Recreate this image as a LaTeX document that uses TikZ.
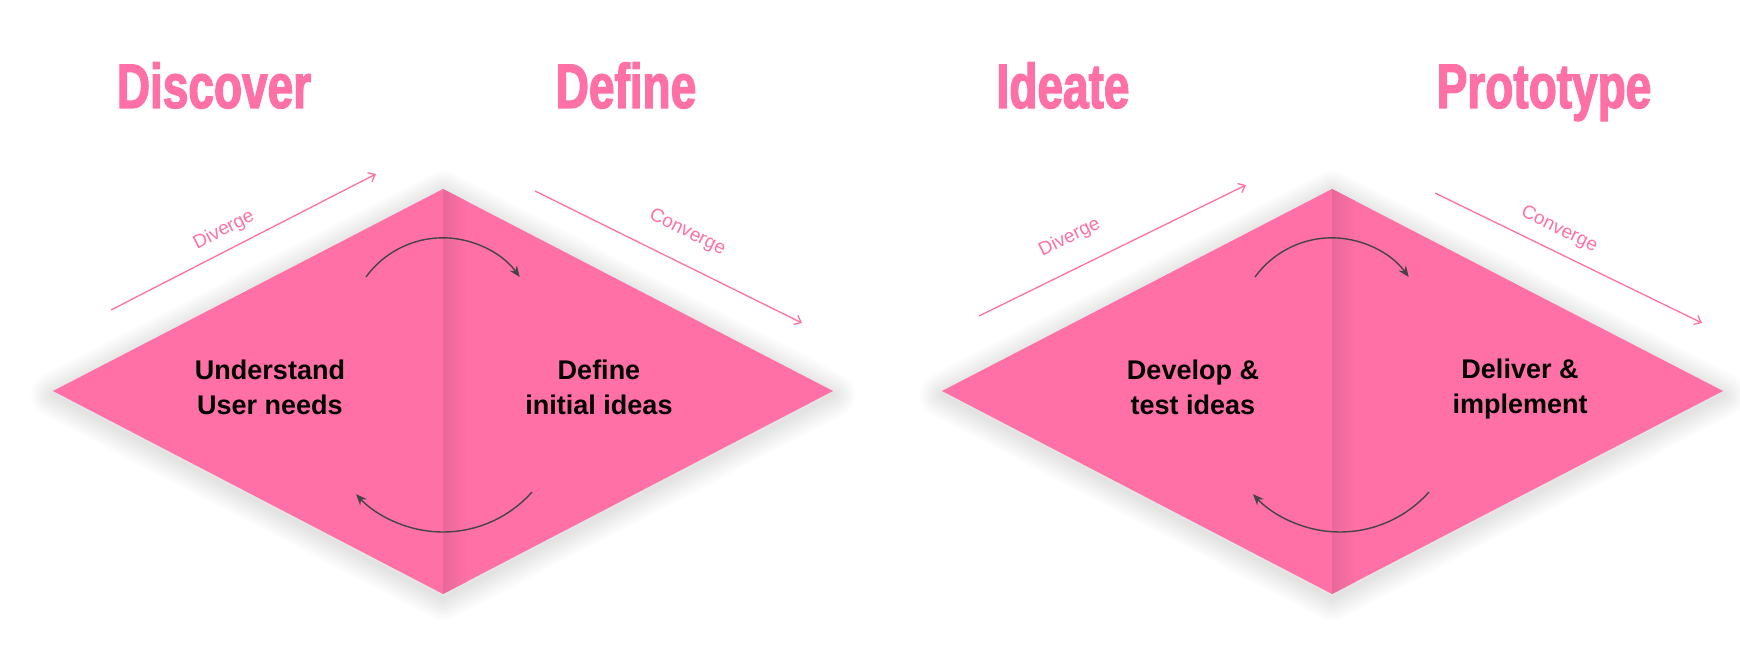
\documentclass[tikz,border=0pt]{standalone}
\usepackage{fontspec}
\setmainfont{Liberation Sans}
\newfontfamily\headfont{Liberation Sans Bold}[FakeStretch=0.73,FakeBold=2]
\usetikzlibrary{arrows.meta}
\usepackage{xcolor}
\definecolor{dpink}{HTML}{FF70A6}
\definecolor{dfold}{HTML}{E8689B}
\definecolor{arrowgray}{HTML}{454545}

\begin{document}
\begin{tikzpicture}[x=1pt, y=1pt,
    heading/.style={font=\headfont\fontsize{63}{63}\selectfont, text=dpink, anchor=base},
    phase/.style={align=center, font=\bfseries\fontsize{27}{35}\selectfont, text=black},
    trend/.style={draw=dpink, line width=1.3pt, -{Straight Barb[length=6pt, width=10pt]}},
    trendlabel/.style={font=\fontsize{19}{19}\selectfont, text=dpink, sloped, inner sep=0pt},
    turn/.style={draw=arrowgray, line width=1.4pt, -{Stealth[length=11pt, width=9pt]}}
]

\useasboundingbox (0,0) rectangle (1740,646);

% Diamonds with soft shadow and fold
\foreach \cx/\lx/\rx in {443/53/833, 1332/942/1723} {
  \foreach \i in {1,...,14}
    \draw[line width=\i*3.2pt, line join=round, black, opacity=0.009]
      (\lx,251) -- (\cx,453) -- (\rx,251) -- (\cx,48) -- cycle;
  \fill[dpink] (\lx,255) -- (\cx,457) -- (\rx,255) -- (\cx,52) -- cycle;
  \begin{scope}
    \clip (\lx,255) -- (\cx,457) -- (\rx,255) -- (\cx,52) -- cycle;
    \shade[left color=dfold, right color=dpink] (\cx,40) rectangle (\cx+24,470);
  \end{scope}
}

% Headings
\node[heading] (discover) at (214,538) {Discover};
\node[heading] (define) at (626,538) {Define};
\node[heading] (ideate) at (1063,538) {Ideate};
\node[heading] (prototype) at (1544,538) {Prototype};

% Phase texts
\node[phase] (understand) at (270,259) {Understand\\User needs};
\node[phase] (initial) at (599,259) {Define\\initial ideas};
\node[phase] (develop) at (1193,259) {Develop \&\\test ideas};
\node[phase] (deliver) at (1520,257) {Deliver \&\\implement};

% Diverge / converge
\coordinate (ldiv0) at (111,336);
\coordinate (ldiv1) at (376,472);
\coordinate (lcon0) at (535,455);
\coordinate (lcon1) at (802,323);
\coordinate (rdiv0) at (979,330);
\coordinate (rdiv1) at (1246,461);
\coordinate (rcon0) at (1435,453);
\coordinate (rcon1) at (1702,323);

\draw[trend] (ldiv0) -- node[trendlabel, above=10pt, pos=0.46] {Diverge} (ldiv1);
\draw[trend] (lcon0) -- node[trendlabel, above=21pt, pos=0.52] {Converge} (lcon1);
\draw[trend] (rdiv0) -- node[trendlabel, above=21pt, pos=0.39] {Diverge} (rdiv1);
\draw[trend] (rcon0) -- node[trendlabel, above=12pt, pos=0.43] {Converge} (rcon1);

% Loop arrows
\coordinate (ltop) at (366,369);
\coordinate (lbot) at (532,154);
\coordinate (rtop) at (1255,369);
\coordinate (rbot) at (1429,154);

\draw[turn] (ltop) arc[start angle=144, end angle=36, radius=95];
\draw[turn] (lbot) arc[start angle=-41.6, end angle=-137, radius=119];
\draw[turn] (rtop) arc[start angle=144, end angle=36, radius=95];
\draw[turn] (rbot) arc[start angle=-41.6, end angle=-137, radius=119];

\end{tikzpicture}
\end{document}
